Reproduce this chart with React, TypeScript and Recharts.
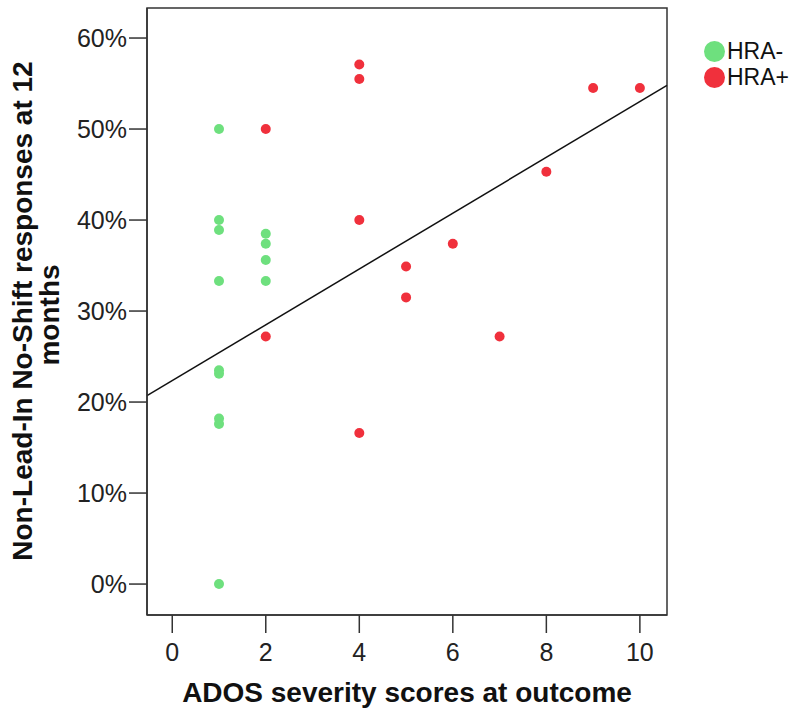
import React from 'react';
import {
  ScatterChart,
  Scatter,
  XAxis,
  YAxis,
  ReferenceLine,
  ReferenceArea
} from 'recharts';

document.body.style.margin = '0';

// HRA- group (green)
const hraNegX = [1, 1, 1, 1, 1, 1, 1, 1, 1, 2, 2, 2, 2];
const hraNegY = [50, 40, 38.9, 33.3, 23.5, 23.1, 18.2, 17.6, 0, 38.5, 37.4, 35.6, 33.3];

// HRA+ group (red)
const hraPosX = [2, 2, 4, 4, 4, 4, 5, 5, 6, 7, 8, 9, 10];
const hraPosY = [50, 27.2, 57.1, 55.5, 40, 16.6, 34.9, 31.5, 37.4, 27.2, 45.3, 54.5, 54.5];

// fit line end points, read at the plot edges
const fitX = [-0.54, 10.58];
const fitY = [20.7, 54.8];

const xTicks = [0, 2, 4, 6, 8, 10];
const yTicks = [0, 10, 20, 30, 40, 50, 60];
const xDomain = [-0.54, 10.58];
const yDomain = [-3.4, 63.3];

const GREEN = '#6ee07e';
const RED = '#f0303c';
const AXIS = '#333';
const FONT = 'Liberation Sans, Arial, sans-serif';

const toPoints = (xs: number[], ys: number[]) => xs.map((x, i) => ({ x, y: ys[i] }));

const negData = toPoints(hraNegX, hraNegY);
const posData = toPoints(hraPosX, hraPosY);
const fitSegment = toPoints(fitX, fitY);

const legendItems = [
  { name: 'HRA-', color: GREEN },
  { name: 'HRA+', color: RED }
];

const dot = (color: string) => (p: any) => (
  <circle cx={p.cx} cy={p.cy} r={5} fill={color} />
);

const YLabel = () => (
  <g>
    <text
      x={22}
      y={311}
      transform="rotate(-90 22 311)"
      textAnchor="middle"
      dominantBaseline="central"
      style={styles.title}
    >
      Non-Lead-In No-Shift responses at 12
    </text>
    <text
      x={49}
      y={315}
      transform="rotate(-90 49 315)"
      textAnchor="middle"
      dominantBaseline="central"
      style={styles.title}
    >
      months
    </text>
  </g>
);

export default function App() {
  return (
    <div style={{ position: 'relative', width: 800, height: 712, background: '#fff' }}>
      <ScatterChart width={800} height={712} margin={{ top: 8, right: 133, left: 0, bottom: 0 }}>
        <XAxis
          type="number"
          dataKey="x"
          domain={xDomain}
          ticks={xTicks}
          allowDataOverflow
          height={97}
          tickSize={18}
          tickMargin={10}
          stroke={AXIS}
          strokeWidth={1.5}
          tick={{ fontSize: 25, fill: '#222', fontFamily: FONT }}
          label={{
            value: 'ADOS severity scores at outcome',
            position: 'insideBottom',
            offset: 10,
            style: styles.title
          }}
        />
        <YAxis
          type="number"
          dataKey="y"
          domain={yDomain}
          ticks={yTicks}
          allowDataOverflow
          width={147}
          tickSize={18}
          tickMargin={2}
          stroke={AXIS}
          strokeWidth={1.5}
          tickFormatter={(v: number) => `${v}%`}
          tick={{ fontSize: 25, fill: '#222', fontFamily: FONT }}
          label={{ content: () => <YLabel /> }}
        />
        <ReferenceArea
          x1={xDomain[0]}
          x2={xDomain[1]}
          y1={yDomain[0]}
          y2={yDomain[1]}
          fill="none"
          stroke={AXIS}
          strokeWidth={1.5}
        />
        <ReferenceLine segment={fitSegment} stroke="#111" strokeWidth={1.5} />
        <Scatter name="HRA-" data={negData} fill={GREEN} shape={dot(GREEN)} isAnimationActive={false} />
        <Scatter name="HRA+" data={posData} fill={RED} shape={dot(RED)} isAnimationActive={false} />
      </ScatterChart>

      {/* legend */}
      <div style={{ position: 'absolute', left: 704, top: 38, fontFamily: FONT }}>
        {legendItems.map(item => (
          <div key={item.name} style={{ display: 'flex', alignItems: 'center', height: 26 }}>
            <span
              style={{
                display: 'inline-block',
                width: 21,
                height: 21,
                borderRadius: '50%',
                background: item.color,
                marginRight: 2
              }}
            />
            <span style={{ fontSize: 23, color: '#111' }}>{item.name}</span>
          </div>
        ))}
      </div>
    </div>
  );
}

const styles: Record<string, React.CSSProperties> = {
  title: {
    fontFamily: FONT,
    fontWeight: 700,
    fontSize: 28,
    fill: '#111'
  }
};
